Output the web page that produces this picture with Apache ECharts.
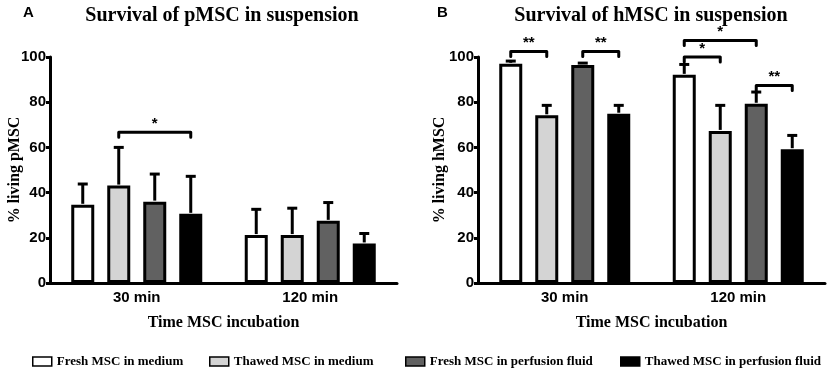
<!DOCTYPE html>
<html>
<head>
<meta charset="utf-8">
<script src="https://cdn.jsdelivr.net/npm/echarts@6/dist/echarts.min.js"></script>
<style>
html, body { margin: 0; padding: 0; background: #fff; }
#chart { width: 829px; height: 370px; }
</style>
</head>
<body>
<div id="chart"></div>
<script>
var categories = ['30 min', '120 min']
var seriesNames = ['Fresh MSC in medium', 'Thawed MSC in medium', 'Fresh MSC in perfusion fluid', 'Thawed MSC in perfusion fluid']
var seriesColors = ['#ffffff', '#d4d4d4', '#616161', '#000000']

// pMSC survival, mean and SD per series [30 min, 120 min]
var pMean = [[34.6, 21.2], [43.1, 21.2], [36.0, 27.5], [30.6, 17.5]]
var pSd = [[9.2, 11.4], [16.9, 11.9], [12.2, 8.1], [16.6, 4.4]]
// hMSC survival
var hMean = [[97.0, 92.1], [74.2, 67.3], [96.5, 79.3], [74.9, 59.2]]
var hSd = [[1.2, 4.6], [4.4, 11.3], [0.8, 5.2], [3.7, 6.1]]

// significance brackets: [group, from bar, to bar, height, label]
var pSig = [[0, 1, 3, 66.7, '*']]
var hSig = [[0, 0, 1, 102.4, '**'], [0, 2, 3, 102.4, '**'], [1, 0, 2, 107.3, '*'], [1, 0, 1, 100, '*'], [1, 2, 3, 87.4, '**']]

var BAR_W = 23
var BAR_PITCH = 36
function barOffset(i) {
  return (i - 1.5) * BAR_PITCH
}

var serif = 'Liberation Serif'
var sans = 'Liberation Sans'

function makeAxes(idx, yName, nameGap) {
  var x = {
    type: 'category', gridIndex: idx, data: categories,
    axisLine: { lineStyle: { color: '#000', width: 3 } },
    axisTick: { alignWithLabel: true, length: 5, lineStyle: { color: '#000', width: 3 } },
    axisLabel: { color: '#000', fontFamily: sans, fontWeight: 'bold', fontSize: 15, margin: 7 },
    name: 'Time MSC incubation', nameLocation: 'middle', nameGap: 32,
    nameTextStyle: { color: '#000', fontFamily: serif, fontWeight: 'bold', fontSize: 16 }
  }
  var y = {
    type: 'value', gridIndex: idx, min: 0, max: 100, interval: 20,
    axisLine: { show: true, lineStyle: { color: '#000', width: 3 } },
    axisTick: { show: true, length: 4, lineStyle: { color: '#000', width: 3 } },
    axisLabel: { color: '#000', fontFamily: sans, fontWeight: 'bold', fontSize: 15, margin: 4 },
    splitLine: { show: false },
    name: yName, nameLocation: 'middle', nameGap: nameGap, nameMoveOverlap: false,
    nameTextStyle: { color: '#000', fontFamily: serif, fontWeight: 'bold', fontSize: 16 }
  }
  return [x, y]
}

function barSeries(idx, means) {
  return seriesNames.map(function (n, s) {
    return {
      name: n, type: 'bar', xAxisIndex: idx, yAxisIndex: idx,
      barWidth: BAR_W, barGap: ((BAR_PITCH - BAR_W) / BAR_W * 100) + '%',
      itemStyle: { color: seriesColors[s], borderColor: '#000', borderWidth: 3 },
      data: means[s]
    }
  })
}

function errorSeries(idx, means, sds) {
  return seriesNames.map(function (n, s) {
    return {
      type: 'custom', xAxisIndex: idx, yAxisIndex: idx, z: 3,
      data: categories.map(function (c, i) { return [i, means[s][i], sds[s][i]] }),
      encode: { x: 0, y: 1 },
      renderItem: function (params, api) {
        var base = api.coord([api.value(0), api.value(1)])
        var top = api.coord([api.value(0), api.value(1) + api.value(2)])
        var x = base[0] + barOffset(s)
        var st = { stroke: '#000', lineWidth: 3 }
        return {
          type: 'group', children: [
            { type: 'line', shape: { x1: x, y1: base[1] - 1, x2: x, y2: top[1] }, style: st },
            { type: 'line', shape: { x1: x - 5, y1: top[1], x2: x + 5, y2: top[1] }, style: st }
          ]
        }
      }
    }
  })
}

function sigSeries(idx, sig) {
  return {
    type: 'custom', xAxisIndex: idx, yAxisIndex: idx, z: 4, clip: false,
    data: sig.map(function (d) { return [d[0], d[3]] }),
    encode: { x: 0, y: 1 },
    renderItem: function (params, api) {
      var d = sig[params.dataIndex]
      var p = api.coord([d[0], d[3]])
      var x1 = p[0] + barOffset(d[1])
      var x2 = p[0] + barOffset(d[2])
      var y = p[1]
      return {
        type: 'group', children: [
          { type: 'polyline', shape: { points: [[x1, y + 5], [x1, y], [x2, y], [x2, y + 5]] },
            style: { stroke: '#000', lineWidth: 3, fill: null, lineJoin: 'round', lineCap: 'round' } },
          { type: 'text', x: (x1 + x2) / 2, y: y - 1,
            style: { text: d[4], textAlign: 'center', textVerticalAlign: 'bottom',
              font: 'bold 15px ' + sans, fill: '#000' } }
        ]
      }
    }
  }
}

var axA = makeAxes(0, '% living pMSC', 27)
var axB = makeAxes(1, '% living hMSC', 30)
var legendLeft = [27, 204, 400, 615]

var chart = echarts.init(document.getElementById('chart'))
chart.setOption({
  animation: false,
  grid: [
    { left: 50, right: 432, top: 57, bottom: 87 },
    { left: 478, right: 4, top: 57, bottom: 87 }
  ],
  xAxis: [axA[0], axB[0]],
  yAxis: [axA[1], axB[1]],
  legend: seriesNames.map(function (n, i) {
    return {
      data: [n], left: legendLeft[i], top: 350, icon: 'rect', itemWidth: 19, itemHeight: 9,
      selectedMode: false,
      itemStyle: { borderColor: '#000', borderWidth: 1.5 },
      textStyle: { color: '#000', fontFamily: serif, fontWeight: 'bold', fontSize: 13 }
    }
  }),
  graphic: [
    { type: 'text', left: 23, top: 5, style: { text: 'A', font: 'bold 15px ' + sans, fill: '#000' } },
    { type: 'text', left: 437, top: 5, style: { text: 'B', font: 'bold 15px ' + sans, fill: '#000' } },
    { type: 'text', x: 222, y: 16, style: { text: 'Survival of pMSC in suspension', textAlign: 'center', textVerticalAlign: 'middle', font: 'bold 20px ' + serif, fill: '#000' } },
    { type: 'text', x: 651, y: 16, style: { text: 'Survival of hMSC in suspension', textAlign: 'center', textVerticalAlign: 'middle', font: 'bold 20px ' + serif, fill: '#000' } }
  ],
  series: [].concat(
    barSeries(0, pMean), errorSeries(0, pMean, pSd), [sigSeries(0, pSig)],
    barSeries(1, hMean), errorSeries(1, hMean, hSd), [sigSeries(1, hSig)]
  )
})
</script>
</body>
</html>
